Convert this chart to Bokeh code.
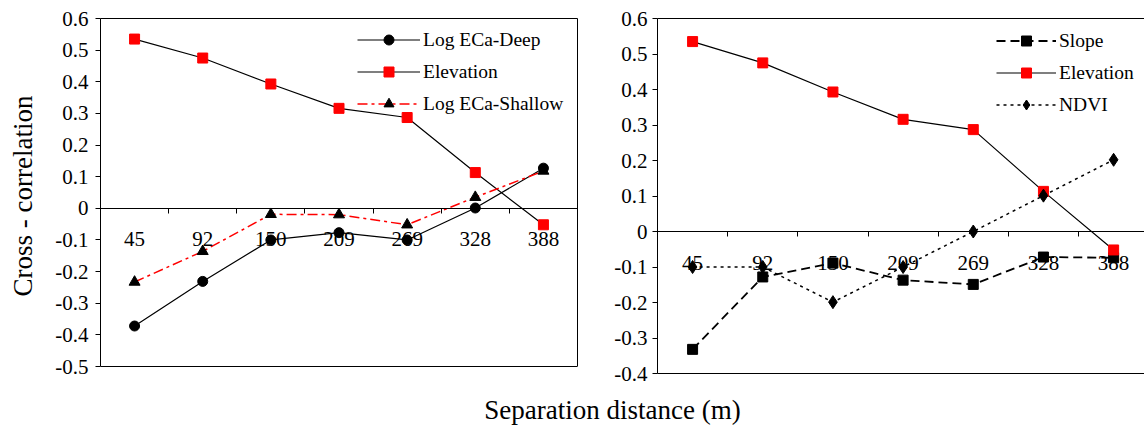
from bokeh.plotting import figure
from bokeh.models import Range1d, FixedTicker, LinearAxis, Legend, LegendItem
from bokeh.layouts import row, column
from bokeh.embed import file_html
from bokeh.resources import INLINE
from bokeh.core.properties import value

# ---------------- data ----------------
distances = ["45", "92", "150", "209", "269", "328", "388"]
elevation = [0.535, 0.475, 0.393, 0.316, 0.287, 0.113, -0.052]
eca_deep = [-0.372, -0.231, -0.100, -0.077, -0.100, 0.001, 0.127]
eca_shallow = [-0.233, -0.136, -0.019, -0.020, -0.052, 0.035, 0.118]
slope = [-0.332, -0.128, -0.089, -0.137, -0.149, -0.072, -0.074]
ndvi = [-0.100, -0.100, -0.199, -0.100, 0.000, 0.101, 0.202]
y_ticks_left = [-0.5, -0.4, -0.3, -0.2, -0.1, 0.0, 0.1, 0.2, 0.3, 0.4, 0.5, 0.6]
y_ticks_right = [-0.4, -0.3, -0.2, -0.1, 0.0, 0.1, 0.2, 0.3, 0.4, 0.5, 0.6]

FONT = "Liberation Serif"
xpos = list(range(1, len(distances) + 1))
boundaries = [i + 0.5 for i in xpos[:-1]]

H = 392  # height of both panels


def plain_axis(**kw):
    return LinearAxis(ticker=FixedTicker(ticks=[]), axis_line_color="black",
                      major_tick_line_color=None, minor_tick_line_color=None,
                      major_tick_out=0, major_tick_in=0, minor_tick_out=0, minor_tick_in=0,
                      major_label_text_font_size="0px", major_label_standoff=0,
                      axis_label_standoff=0, **kw)


def style_panel(p, yticks):
    p.grid.visible = False
    p.background_fill_color = "white"
    p.border_fill_color = "white"
    # y axis
    ya = p.yaxis[0]
    ya.ticker = FixedTicker(ticks=yticks)
    ya.bounds = (yticks[0], yticks[-1])
    ya.major_label_overrides = {t: f"{t:g}" for t in yticks}
    ya.major_label_text_font = FONT
    ya.major_label_text_font_size = "21px"
    ya.major_label_text_color = "black"
    ya.major_tick_out = 5
    ya.major_tick_in = 0
    ya.minor_tick_line_color = None
    ya.axis_line_color = "black"
    ya.major_tick_line_color = "black"
    ya.axis_label_text_font = FONT
    ya.axis_label_text_font_style = "normal"
    ya.axis_label_text_font_size = "27px"
    ya.axis_label_text_color = "black"
    # x axis at zero with ticks at category boundaries
    xa = p.xaxis[0]
    xa.fixed_location = 0
    xa.ticker = FixedTicker(ticks=boundaries)
    xa.major_label_text_font_size = "0px"
    xa.major_label_text_color = None
    xa.major_tick_out = 5
    xa.major_tick_in = 0
    xa.minor_tick_line_color = None
    xa.axis_line_color = "black"
    xa.major_tick_line_color = "black"
    # label axis (category names)
    la = LinearAxis(fixed_location=0, ticker=FixedTicker(ticks=xpos),
                    major_label_overrides={x: d for x, d in zip(xpos, distances)},
                    axis_line_color=None, major_tick_line_color=None,
                    minor_tick_line_color=None, major_tick_out=0, major_tick_in=0,
                    major_label_standoff=24, major_label_text_font=FONT,
                    major_label_text_font_size="21px", major_label_text_color="black")
    p.add_layout(la, "below")
    # top border
    p.add_layout(plain_axis(), "above")


# ---------------- left panel ----------------
p1 = figure(width=610, height=H, x_range=Range1d(0.5, 7.5), y_range=Range1d(-0.5221, 0.6),
            output_backend="svg", toolbar_location=None,
            min_border_left=100, min_border_right=33, min_border_top=18,
            min_border_bottom=H - 373, outline_line_color=None)
style_panel(p1, y_ticks_left)
p1.yaxis[0].axis_label = "Cross - correlation"
p1.yaxis[0].major_label_standoff = 7
p1.yaxis[0].axis_label_standoff = 14
p1.add_layout(plain_axis(fixed_location=-0.5), "below")
p1.add_layout(plain_axis(bounds=(-0.5, 0.6)), "right")

l_deep = p1.line(xpos, eca_deep, line_color="black", line_width=1.2)
s_deep = p1.scatter(xpos, eca_deep, marker="circle", size=10, fill_color="black", line_color="black")
l_elev = p1.line(xpos, elevation, line_color="black", line_width=1.2)
s_elev = p1.scatter(xpos, elevation, marker="square", size=10, fill_color="#ff0000", line_color="#ff0000")
l_sh = p1.line(xpos, eca_shallow, line_color="#ff0000", line_width=1.5, line_dash="10 4 3 4")
s_sh = p1.scatter(xpos, eca_shallow, marker="triangle", size=11, fill_color="black", line_color="black")

leg1 = Legend(items=[LegendItem(label="Log ECa-Deep", renderers=[l_deep, s_deep]),
                     LegendItem(label="Elevation", renderers=[l_elev, s_elev]),
                     LegendItem(label="Log ECa-Shallow", renderers=[l_sh, s_sh])],
              location=(257, 257), border_line_color=None, background_fill_alpha=0,
              label_text_font=FONT, label_text_font_size="19.5px", label_text_color="black",
              glyph_width=63, glyph_height=25, label_height=25, label_standoff=3,
              spacing=7, padding=0, margin=0)
p1.add_layout(leg1)

# ---------------- right panel ----------------
p2 = figure(width=534, height=H, x_range=Range1d(0.5, 7.44), y_range=Range1d(-0.4, 0.6),
            output_backend="svg", toolbar_location=None,
            min_border_left=47, min_border_right=0, min_border_top=18,
            min_border_bottom=H - 373, outline_line_color=None)
style_panel(p2, y_ticks_right)
p2.yaxis[0].major_label_standoff = 5
p2.add_layout(plain_axis(), "below")

l_sl = p2.line(xpos, slope, line_color="black", line_width=1.8, line_dash="9 5")
s_sl = p2.scatter(xpos, slope, marker="square", size=10, fill_color="black", line_color="black")
l_el2 = p2.line(xpos, elevation, line_color="black", line_width=1.2)
s_el2 = p2.scatter(xpos, elevation, marker="square", size=10, fill_color="#ff0000", line_color="#ff0000")
l_nd = p2.line(xpos, ndvi, line_color="black", line_width=1.5, line_dash="3 4")
s_nd = p2.scatter(xpos, ndvi, marker="diamond", size=13, fill_color="black", line_color="black")

leg2 = Legend(items=[LegendItem(label="Slope", renderers=[l_sl, s_sl]),
                     LegendItem(label="Elevation", renderers=[l_el2, s_el2]),
                     LegendItem(label="NDVI", renderers=[l_nd, s_nd])],
              location=(339, 256), border_line_color=None, background_fill_alpha=0,
              label_text_font=FONT, label_text_font_size="19.5px", label_text_color="black",
              glyph_width=60, glyph_height=25, label_height=25, label_standoff=3,
              spacing=7, padding=0, margin=0)
p2.add_layout(leg2)

# ---------------- shared x-axis title ----------------
p3 = figure(width=1144, height=426 - H, x_range=Range1d(0, 1144), y_range=Range1d(0, 426 - H),
            output_backend="svg", toolbar_location=None, min_border=0,
            x_axis_location=None, y_axis_location=None, outline_line_color=None)
p3.grid.visible = False
p3.text(x=[612], y=[17], text=["Separation distance (m)"], text_font=value(FONT),
        text_font_size="27px", text_align="center", text_baseline="middle",
        text_color="black")

layout = column(row(p1, p2), p3)
open("out.html", "w").write(file_html(layout, INLINE))
